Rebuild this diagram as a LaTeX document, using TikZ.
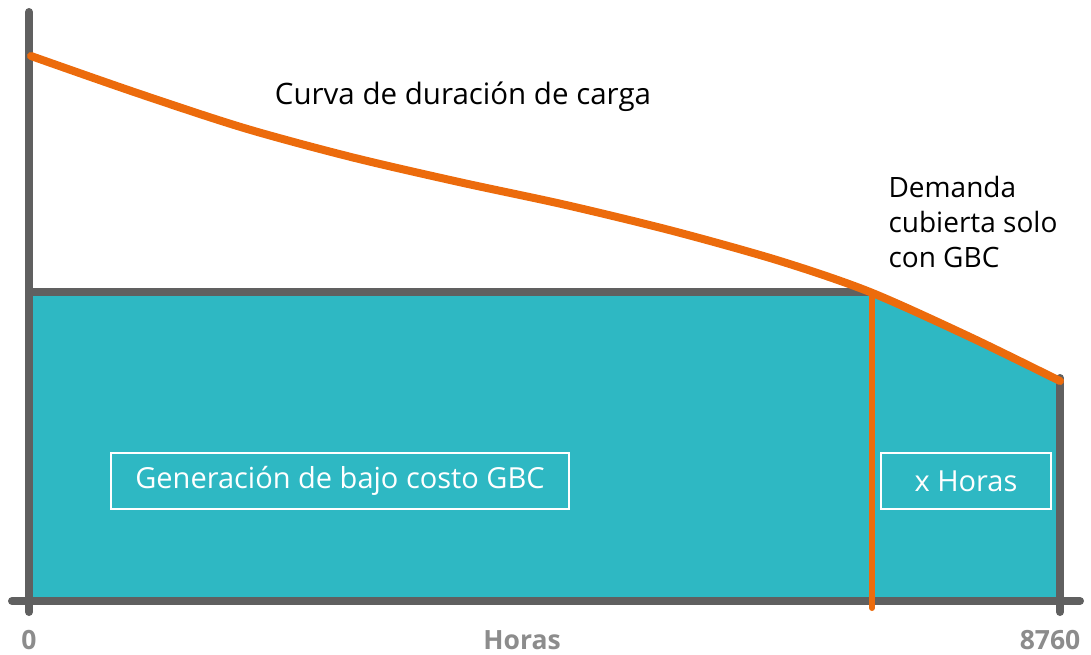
\documentclass[tikz,border=0pt]{standalone}
\usepackage{fontspec}
\setmainfont{Open Sans}
\definecolor{gris}{HTML}{606060}
\definecolor{grisclaro}{HTML}{8C8C8C}
\definecolor{turquesa}{HTML}{2EB8C3}
\definecolor{naranja}{HTML}{EC6B0C}
\begin{document}
\begin{tikzpicture}[x=1pt,y=-1pt,
    eje/.style={line width=8pt, color=gris, line cap=round},
    curva/.style={line width=8pt, color=naranja, line cap=round},
    caja/.style={draw=white, line width=2pt, text=white, minimum height=56pt, inner sep=0pt, font=\fontsize{29}{34}\selectfont},
    rotulo/.style={font=\fontsize{28}{35}\selectfont},
    horas/.style={font=\bfseries\fontsize{26.5}{32}\selectfont, text=grisclaro}]
        \useasboundingbox (0,0) rectangle (1091,654);
        % area GBC
        \fill [turquesa] (29,292) -- plot[smooth] coordinates {(870,292) (970,337) (1060,381)} -- (1060,601) -- (29,601) -- cycle;
        % linea GBC
        \draw [eje, line cap=butt] (29,292) -- (870,292);
        % ejes
        \draw [eje] (29,12) -- (29,612);
        \draw [eje] (12,601) -- (1080,601);
        \draw [eje] (1060,378) -- (1060,612);
        % x horas
        \draw [curva, line width=6pt] (872,292) -- (872,608);
        % curva de carga
        \draw [curva] plot[smooth] coordinates {(31,56) (137,93) (244,128) (351,157) (459,182) (566,205) (673,231) (780,261) (870,292) (970,337) (1060,381)};
        % textos
        \node [rotulo, font=\fontsize{29.5}{35}\selectfont] (titulo) at (463,97) {Curva de duración de carga};
        \node [rotulo, align=left, anchor=north west] (demanda) at (885,173) {Demanda\\cubierta solo\\con GBC};
        \node [caja, minimum width=458pt] (gbc) at (340,481) {Generación de bajo costo GBC};
        \node [caja, minimum width=170pt] (xhoras) at (966,481) {x Horas};
        \node [horas] (cero) at (29,640) {0};
        \node [horas] (ejex) at (522,640) {Horas};
        \node [horas] (fin) at (1050,640) {8760};
    \end{tikzpicture}
\end{document}
